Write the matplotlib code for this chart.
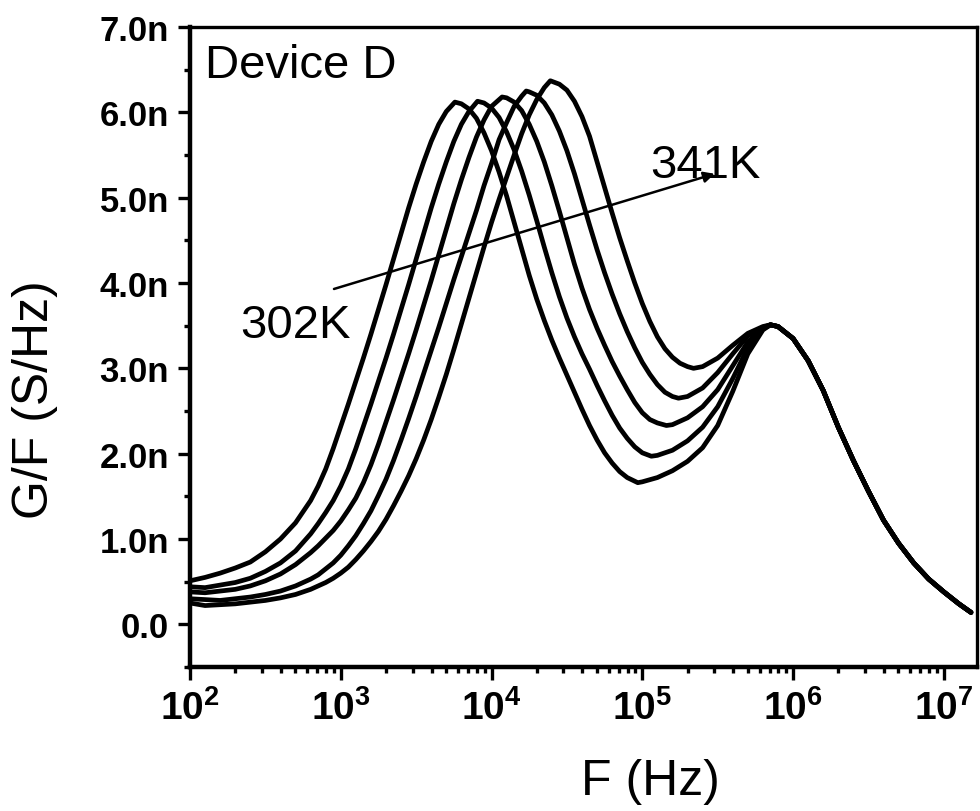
import numpy as np
import matplotlib
matplotlib.use('Agg')
import matplotlib.pyplot as plt
from matplotlib.ticker import MultipleLocator, FuncFormatter, LogLocator, NullFormatter, FixedLocator

plt.rcParams['font.family'] = ['Liberation Sans', 'DejaVu Sans']
plt.rcParams['mathtext.fontset'] = 'custom'
plt.rcParams['mathtext.rm'] = 'Liberation Sans:bold'
plt.rcParams['mathtext.bf'] = 'Liberation Sans:bold'
plt.rcParams['mathtext.it'] = 'Liberation Sans:bold'
plt.rcParams['mathtext.default'] = 'bf'

# ---- data (frequency as log10(Hz), G/F in nS/Hz) ----
logf_302 = [2.0, 2.1, 2.2, 2.3, 2.4, 2.5, 2.6, 2.7, 2.8, 2.85, 2.9, 2.95, 3.0, 3.05, 3.1, 3.15, 3.2,
            3.25, 3.3, 3.35, 3.4, 3.45, 3.5, 3.55, 3.6, 3.65, 3.7, 3.757, 3.8, 3.85, 3.9, 3.95, 4.0,
            4.05, 4.1, 4.15, 4.2, 4.25, 4.3, 4.35, 4.4, 4.45, 4.5, 4.55, 4.6, 4.65, 4.7, 4.75, 4.8,
            4.85, 4.9, 4.97, 5.0, 5.1, 5.2, 5.3, 5.4, 5.5, 5.6, 5.7, 5.8]
gf_302 = [0.51, 0.55, 0.60, 0.66, 0.73, 0.85, 1.00, 1.19, 1.45, 1.62, 1.82, 2.06, 2.32, 2.58, 2.85,
          3.12, 3.40, 3.69, 3.98, 4.28, 4.58, 4.88, 5.16, 5.42, 5.66, 5.86, 6.01, 6.12, 6.10, 6.04,
          5.93, 5.76, 5.55, 5.30, 5.02, 4.71, 4.40, 4.09, 3.81, 3.56, 3.33, 3.12, 2.92, 2.72, 2.52,
          2.33, 2.16, 2.01, 1.89, 1.79, 1.72, 1.66, 1.67, 1.72, 1.80, 1.91, 2.07, 2.33, 2.73, 3.17,
          3.45]

logf_c2 = [2.0, 2.1, 2.2, 2.3, 2.4, 2.5, 2.6, 2.7, 2.8, 2.85, 2.9, 2.95, 3.0, 3.05, 3.1, 3.15, 3.2,
           3.25, 3.3, 3.35, 3.4, 3.45, 3.5, 3.55, 3.6, 3.65, 3.7, 3.75, 3.8, 3.85, 3.907, 3.95, 4.0,
           4.05, 4.1, 4.15, 4.2, 4.25, 4.3, 4.35, 4.4, 4.45, 4.5, 4.55, 4.6, 4.65, 4.7, 4.75, 4.8,
           4.85, 4.9, 4.95, 5.0, 5.06, 5.1, 5.2, 5.3, 5.4, 5.5, 5.6, 5.7, 5.8]
gf_c2 = [0.44, 0.43, 0.46, 0.49, 0.54, 0.62, 0.72, 0.86, 1.06, 1.18, 1.31, 1.45, 1.62, 1.82, 2.06,
         2.32, 2.58, 2.85, 3.12, 3.40, 3.69, 3.98, 4.28, 4.58, 4.88, 5.16, 5.42, 5.66, 5.86, 6.01,
         6.13, 6.11, 6.05, 5.94, 5.77, 5.56, 5.31, 5.03, 4.73, 4.42, 4.12, 3.84, 3.59, 3.37, 3.17,
         2.99, 2.80, 2.62, 2.45, 2.30, 2.18, 2.08, 2.01, 1.97, 1.98, 2.04, 2.15, 2.31, 2.55, 2.88,
         3.24, 3.46]

logf_c3 = [2.0, 2.1, 2.2, 2.3, 2.4, 2.5, 2.6, 2.7, 2.8, 2.85, 2.9, 2.95, 3.0, 3.05, 3.1, 3.15, 3.2,
           3.25, 3.3, 3.35, 3.4, 3.45, 3.5, 3.55, 3.6, 3.65, 3.7, 3.75, 3.8, 3.85, 3.9, 3.95, 4.0,
           4.07, 4.1, 4.15, 4.2, 4.25, 4.3, 4.35, 4.4, 4.45, 4.5, 4.55, 4.6, 4.65, 4.7, 4.75, 4.8,
           4.85, 4.9, 4.95, 5.0, 5.05, 5.1, 5.16, 5.2, 5.3, 5.4, 5.5, 5.6, 5.7, 5.8]
gf_c3 = [0.38, 0.37, 0.39, 0.41, 0.45, 0.51, 0.59, 0.70, 0.84, 0.92, 1.01, 1.10, 1.21, 1.34, 1.48,
         1.66, 1.87, 2.11, 2.37, 2.63, 2.90, 3.17, 3.45, 3.74, 4.03, 4.33, 4.63, 4.93, 5.21, 5.47,
         5.71, 5.91, 6.07, 6.18, 6.17, 6.12, 6.02, 5.86, 5.66, 5.42, 5.14, 4.84, 4.53, 4.22, 3.94,
         3.69, 3.47, 3.27, 3.08, 2.91, 2.75, 2.60, 2.48, 2.40, 2.36, 2.33, 2.34, 2.42, 2.55, 2.75,
         3.03, 3.31, 3.47]

logf_c4 = [2.0, 2.1, 2.2, 2.3, 2.4, 2.5, 2.6, 2.7, 2.8, 2.85, 2.9, 2.95, 3.0, 3.05, 3.1, 3.15, 3.2,
           3.25, 3.3, 3.35, 3.4, 3.45, 3.5, 3.55, 3.6, 3.65, 3.7, 3.75, 3.8, 3.85, 3.9, 3.95, 4.0,
           4.05, 4.1, 4.15, 4.2, 4.23, 4.25, 4.3, 4.35, 4.4, 4.45, 4.5, 4.55, 4.6, 4.65, 4.7, 4.75,
           4.8, 4.85, 4.9, 4.95, 5.0, 5.05, 5.1, 5.15, 5.2, 5.24, 5.3, 5.4, 5.5, 5.6, 5.7, 5.8]
gf_c4 = [0.30, 0.29, 0.28, 0.30, 0.32, 0.35, 0.39, 0.45, 0.53, 0.58, 0.65, 0.72, 0.81, 0.92, 1.04,
         1.18, 1.33, 1.51, 1.70, 1.92, 2.16, 2.41, 2.67, 2.94, 3.21, 3.48, 3.76, 4.04, 4.31, 4.58,
         4.85, 5.14, 5.40, 5.68, 5.88, 6.07, 6.19, 6.25, 6.24, 6.20, 6.11, 5.97, 5.78, 5.55, 5.28,
         4.98, 4.68, 4.39, 4.12, 3.87, 3.64, 3.43, 3.24, 3.07, 2.93, 2.81, 2.72, 2.67, 2.65, 2.67,
         2.77, 2.95, 3.17, 3.38, 3.48]

logf_341 = [2.0, 2.1, 2.2, 2.3, 2.4, 2.5, 2.6, 2.7, 2.8, 2.85, 2.9, 2.95, 3.0, 3.05, 3.1, 3.15, 3.2,
            3.25, 3.3, 3.35, 3.4, 3.45, 3.5, 3.55, 3.6, 3.65, 3.7, 3.75, 3.8, 3.85, 3.9, 3.95, 4.0,
            4.05, 4.1, 4.15, 4.2, 4.25, 4.3, 4.35, 4.39, 4.45, 4.5, 4.55, 4.6, 4.65, 4.7, 4.75, 4.8,
            4.85, 4.9, 4.95, 5.0, 5.05, 5.1, 5.15, 5.2, 5.25, 5.3, 5.34, 5.4, 5.5, 5.6, 5.7, 5.8]
gf_341 = [0.25, 0.22, 0.23, 0.24, 0.26, 0.28, 0.31, 0.35, 0.41, 0.45, 0.49, 0.54, 0.60, 0.67, 0.76,
          0.86, 0.97, 1.09, 1.23, 1.39, 1.56, 1.74, 1.94, 2.16, 2.40, 2.66, 2.93, 3.22, 3.52, 3.82,
          4.12, 4.42, 4.71, 4.98, 5.24, 5.50, 5.75, 5.97, 6.15, 6.29, 6.37, 6.33, 6.26, 6.13, 5.95,
          5.72, 5.42, 5.12, 4.82, 4.53, 4.26, 4.00, 3.76, 3.55, 3.37, 3.23, 3.13, 3.06, 3.02, 3.00,
          3.02, 3.12, 3.27, 3.41, 3.49]

# common high-frequency tail (all temperatures overlap)
logf_tail = [5.85, 5.9, 6.0, 6.1, 6.2, 6.3, 6.4, 6.5, 6.6, 6.7, 6.8, 6.9, 7.0, 7.1, 7.18]
gf_tail = [3.51, 3.49, 3.35, 3.09, 2.74, 2.31, 1.92, 1.56, 1.22, 0.95, 0.72, 0.53, 0.38, 0.24, 0.14]

curves = [(logf_302, gf_302), (logf_c2, gf_c2), (logf_c3, gf_c3), (logf_c4, gf_c4), (logf_341, gf_341)]

y_ticks = [0, 1, 2, 3, 4, 5, 6, 7]
x_ticks_exp = [2, 3, 4, 5, 6, 7]

fig = plt.figure(figsize=(9.8, 8.12), dpi=100)
ax = fig.add_axes([190 / 980, 1 - 668 / 812, 787 / 980, 640 / 812])

for lf, g in curves:
    x = 10 ** np.array(lf + logf_tail)
    y = np.array(g + gf_tail)
    ax.plot(x, y, color='black', lw=3.4, solid_joinstyle='round', solid_capstyle='round')

ax.set_xscale('log')
ax.set_xlim(100, 10 ** 7.22)
ax.set_ylim(-0.5, 7.0)

ax.xaxis.set_major_locator(FixedLocator([10.0 ** e for e in x_ticks_exp]))
ax.xaxis.set_major_formatter(FuncFormatter(lambda v, p: r'$\mathbf{10^{%d}}$' % round(np.log10(v))))
ax.xaxis.set_minor_locator(LogLocator(base=10, subs=np.arange(2, 10), numticks=100))
ax.xaxis.set_minor_formatter(NullFormatter())

ax.yaxis.set_major_locator(FixedLocator(y_ticks))
ax.yaxis.set_major_formatter(FuncFormatter(lambda v, p: '0.0' if abs(v) < 1e-9 else '%.1fn' % v))
ax.yaxis.set_minor_locator(MultipleLocator(0.5))

ax.tick_params(axis='both', which='major', direction='out', length=9, width=2.4, pad=6)
ax.tick_params(axis='both', which='minor', direction='out', length=4.5, width=2.4)
ax.tick_params(top=False, right=False, which='both')
ax.tick_params(axis='y', which='major', labelsize=25)
ax.tick_params(axis='x', which='major', labelsize=28, pad=7)
for lab in ax.get_yticklabels():
    lab.set_fontweight('bold')

for s in ['left', 'bottom']:
    ax.spines[s].set_linewidth(3.2)
for s in ['top', 'right']:
    ax.spines[s].set_linewidth(2.4)

fig.text(650 / 980, 1 - 782 / 812, 'F (Hz)', fontsize=36, ha='center', va='center')
fig.text(35 / 980, 1 - 400 / 812, 'G/F (S/Hz)', fontsize=36, ha='center', va='center', rotation=90)

ax.text(0.019, 0.922, 'Device D', transform=ax.transAxes, fontsize=34, ha='left', va='baseline')
ax.text(0.0635, 0.5156, '302K', transform=ax.transAxes, fontsize=34, ha='left', va='baseline')
ax.text(0.5845, 0.7656, '341K', transform=ax.transAxes, fontsize=34, ha='left', va='baseline')
ax.annotate('', xy=(10 ** 5.48, 5.28), xytext=(10 ** 2.955, 3.93),
            arrowprops=dict(arrowstyle='-|>', lw=1.8, color='black', mutation_scale=16,
                            shrinkA=0, shrinkB=0))

fig.savefig('out.png', dpi=100)
